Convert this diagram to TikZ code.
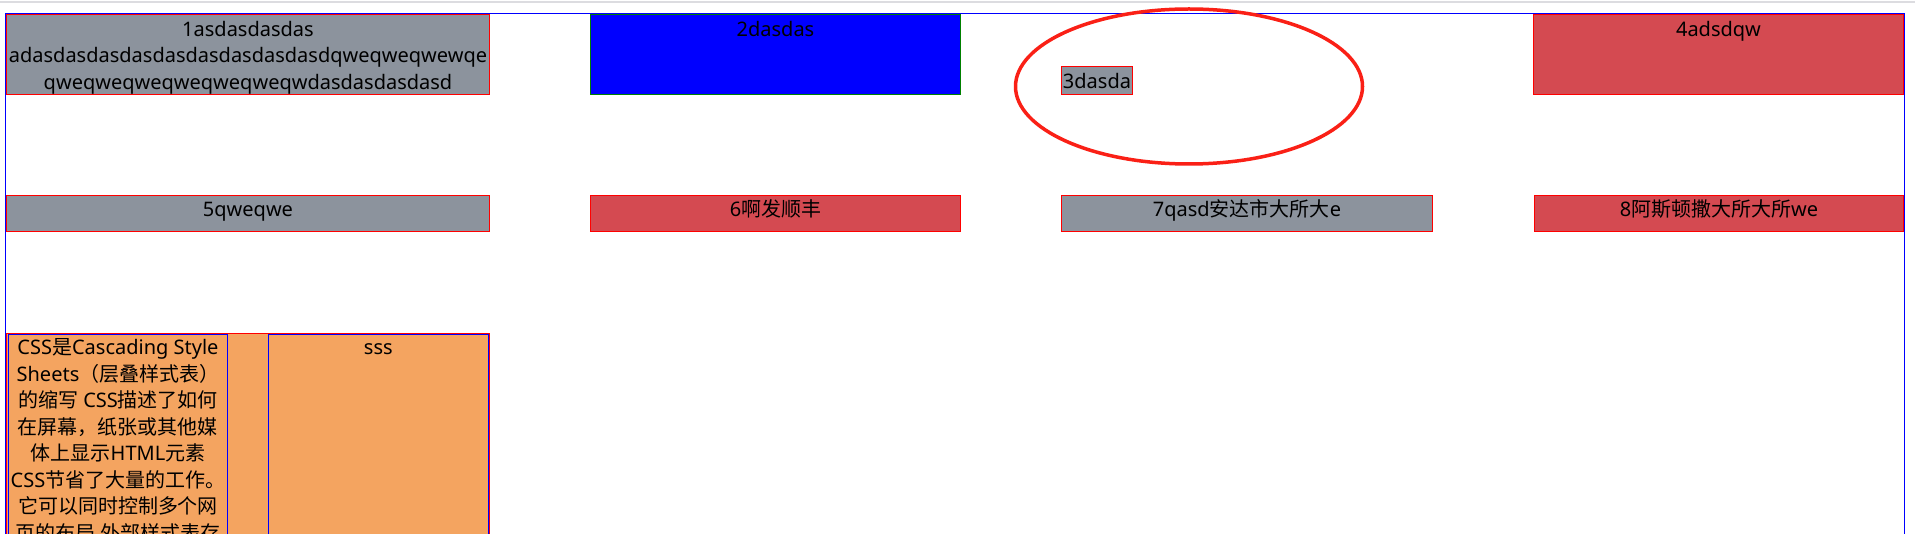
\documentclass[tikz,border=0pt]{standalone}
\usepackage{fontspec}
\setmainfont{Noto Sans}
\newfontfamily\cjk{Noto Sans CJK SC}
\usetikzlibrary{shapes.geometric}
\definecolor{boxgray}{RGB}{140,147,157}
\definecolor{boxred}{RGB}{212,74,81}
\definecolor{boxorange}{RGB}{244,164,96}
\definecolor{ellred}{RGB}{250,32,22}
\definecolor{topgray}{RGB}{220,220,224}
\definecolor{boxgreen}{RGB}{0,128,0}
\begin{document}
\begin{tikzpicture}[x=1pt,y=-1pt,
  cell/.style={draw, line width=1pt, inner sep=0pt, outer sep=0pt},
  graycell/.style={cell, draw=red, fill=boxgray},
  redcell/.style={cell, draw=red, fill=boxred},
  lbl/.style={inner sep=0pt, anchor=base, text=black, font=\fontsize{20}{26.5}\selectfont}]
\useasboundingbox (0,0) rectangle (1915,534);
\clip (0,0) rectangle (1915,534);
\fill[white] (0,0) rectangle (1915,534);
\fill[topgray] (0,1) rectangle (1915,2.7);
% container
\node[cell, draw=blue, anchor=north west, minimum width=1899pt, minimum height=600pt] (page) at (5.3,13.3) {};
% row 1
\node[graycell, minimum width=483pt, minimum height=80pt] (b1) at (248,54.5) {};
\node[cell, draw=boxgreen, fill=blue, minimum width=370pt, minimum height=80pt] (b2) at (775.5,54.5) {};
\node[redcell, minimum width=370pt, minimum height=80pt] (b4) at (1718.5,54.5) {};
\node[graycell, minimum width=71pt, minimum height=27.5pt] (b3) at (1097,80.5) {};
\node[ellipse, draw=ellred, line width=3.5pt, inner sep=0pt, minimum width=347pt, minimum height=155pt] (ell) at (1189,86.5) {};
\node[lbl] (t1) at (248,36.5) {\parbox[t]{480pt}{\centering 1asdasdasdas\\adasdasdasdasdasdasdasdasdasdqweqweqwewqe\\qweqweqweqweqweqweqwdasdasdasdasd}};
\node[lbl] (t2) at (775.5,36.5) {2dasdas};
\node[lbl] (t3) at (1097,89) {3dasda};
\node[lbl] (t4) at (1718.5,36.5) {4adsdqw};
% row 2
\node[graycell, minimum width=483pt, minimum height=36pt] (b5) at (248,213.5) {};
\node[redcell, minimum width=370pt, minimum height=36pt] (b6) at (775.5,213.5) {};
\node[graycell, minimum width=371pt, minimum height=36pt] (b7) at (1247,213.5) {};
\node[redcell, minimum width=369pt, minimum height=36pt] (b8) at (1719,213.5) {};
\node[lbl] (t5) at (248,216.7) {5qweqwe};
\node[lbl] (t6) at (775.5,216.7) {6{\cjk 啊发顺丰}};
\node[lbl] (t7) at (1247,216.7) {7qasd{\cjk 安达市大所大}e};
\node[lbl] (t8) at (1719,216.7) {8{\cjk 阿斯顿撒大所大所}we};
% row 3
\node[cell, draw=red, fill=boxorange, anchor=north, minimum width=482.5pt, minimum height=300pt] (b9) at (247.75,333.2) {};
\node[cell, draw=blue, anchor=north, minimum width=219pt, minimum height=300pt] (b9a) at (118,334.5) {};
\node[cell, draw=blue, anchor=north, minimum width=219.7pt, minimum height=300pt] (b9b) at (378.3,334.5) {};
\node[lbl] (t9a) at (118,355) {\parbox[t]{219pt}{\centering CSS{\cjk 是}Cascading Style\\Sheets{\cjk （层叠样式表）}\\{\cjk 的缩写} CSS{\cjk 描述了如何}\\{\cjk 在屏幕，纸张或其他媒}\\{\cjk 体上显示}HTML{\cjk 元素}\\CSS{\cjk 节省了大量的工作。}\\{\cjk 它可以同时控制多个网}\\{\cjk 页的布局 外部样式表存}}};
\node[lbl] (t9b) at (378.3,355) {sss};
\end{tikzpicture}
\end{document}
